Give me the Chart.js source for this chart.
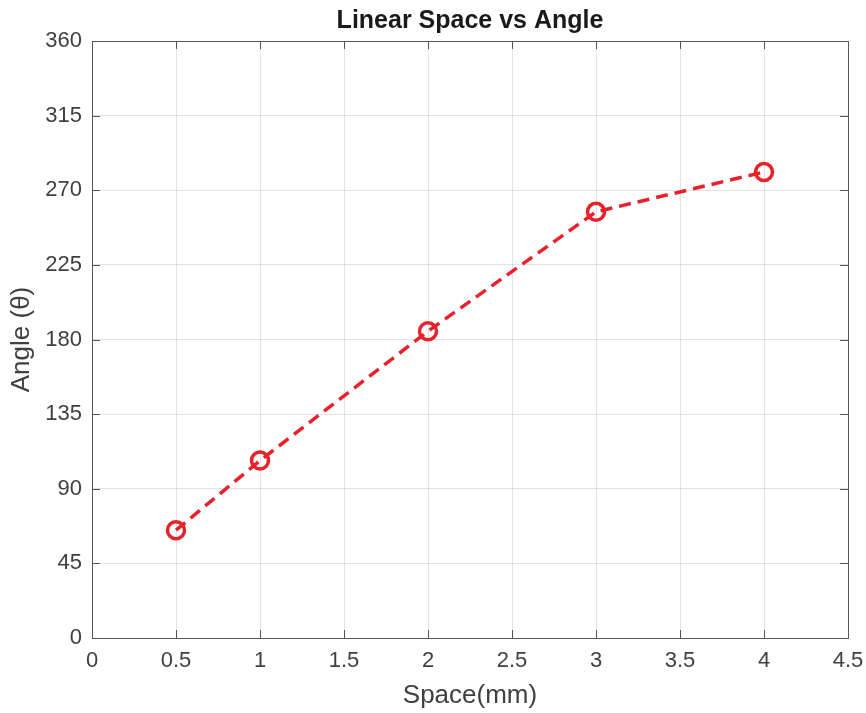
<!DOCTYPE html>
<html>
<head>
<meta charset="utf-8">
<script src="https://cdn.jsdelivr.net/npm/chart.js@4/dist/chart.umd.min.js"></script>
<style>
  html, body { margin: 0; padding: 0; background: #fff; }
  #wrap { width: 866px; height: 713px; }
</style>
</head>
<body>
<div id="wrap"><canvas id="grafico"></canvas></div>
<script>
// dados
const spaceMm = [0.5, 1, 2, 3, 4];
const angleDeg = [65, 107, 185, 257, 281];
const xTicks = [0, 0.5, 1, 1.5, 2, 2.5, 3, 3.5, 4, 4.5];
const yTicks = [0, 45, 90, 135, 180, 225, 270, 315, 360];

const INK = '#404040';
const GRID = 'rgba(38,38,38,0.13)';
const RED = '#e8212a';
const FONT = "'Liberation Sans', Arial, Helvetica, sans-serif";

// caixa completa + marcas internas (estilo MATLAB) + título centrado na área
const boxPlugin = {
  id: 'box',
  afterDraw(chart) {
    const { ctx, chartArea: a, scales } = chart;
    ctx.save();
    ctx.strokeStyle = '#555';
    ctx.lineWidth = 1;
    ctx.strokeRect(a.left + 0.5, a.top + 0.5, a.right - a.left, a.bottom - a.top);
    const len = 8;
    ctx.beginPath();
    scales.x.ticks.forEach(t => {
      const px = Math.round(scales.x.getPixelForValue(t.value)) + 0.5;
      ctx.moveTo(px, a.bottom); ctx.lineTo(px, a.bottom - len);
      ctx.moveTo(px, a.top); ctx.lineTo(px, a.top + len);
    });
    scales.y.ticks.forEach(t => {
      const py = Math.round(scales.y.getPixelForValue(t.value)) + 0.5;
      ctx.moveTo(a.left, py); ctx.lineTo(a.left + len, py);
      ctx.moveTo(a.right, py); ctx.lineTo(a.right - len, py);
    });
    ctx.stroke();
    // título
    ctx.fillStyle = '#1a1a1a';
    ctx.font = 'bold 25px ' + FONT;
    ctx.textAlign = 'center';
    ctx.textBaseline = 'middle';
    ctx.fillText('Linear Space vs Angle', (a.left + a.right) / 2, 21);
    ctx.restore();
  }
};

new Chart(document.getElementById('grafico'), {
  type: 'scatter',
  data: {
    datasets: [{
      label: 'Angle',
      data: spaceMm.map((x, i) => ({ x, y: angleDeg[i] })),
      showLine: true,
      borderColor: RED,
      borderWidth: 3.5,
      borderDash: [12, 7],
      backgroundColor: 'rgba(0,0,0,0)',
      pointBorderColor: RED,
      pointBackgroundColor: 'rgba(0,0,0,0)',
      pointBorderWidth: 3.5,
      pointRadius: 8.5,
      pointHoverRadius: 8.5
    }]
  },
  options: {
    responsive: true,
    maintainAspectRatio: false,
    animation: false,
    layout: { padding: { top: 41, right: 18, left: 0, bottom: 0 } },
    plugins: {
      legend: { display: false },
      tooltip: { enabled: false },
      title: { display: false }
    },
    scales: {
      x: {
        type: 'linear',
        min: 0, max: 4.5,
        afterBuildTicks: s => { s.ticks = xTicks.map(v => ({ value: v })); },
        afterFit: s => { s.height = 75; s.paddingLeft = 0; s.paddingRight = 0; },
        ticks: { color: INK, font: { family: FONT, size: 22 }, padding: 10, maxRotation: 0, callback: v => String(v) },
        grid: { color: GRID, drawTicks: false },
        border: { display: false },
        title: { display: true, text: 'Space(mm)', color: INK, font: { family: FONT, size: 26 }, padding: { top: 0, bottom: 2 } }
      },
      y: {
        type: 'linear',
        min: 0, max: 360,
        afterBuildTicks: s => { s.ticks = yTicks.map(v => ({ value: v })); },
        afterFit: s => { s.width = 92; s.paddingTop = 0; s.paddingBottom = 0; },
        ticks: { color: INK, font: { family: FONT, size: 22 }, padding: 10, callback: v => String(v) },
        grid: { color: GRID, drawTicks: false },
        border: { display: false },
        title: { display: true, text: 'Angle (θ)', color: INK, font: { family: FONT, size: 26 }, padding: { top: 6, bottom: 0 } }
      }
    }
  },
  plugins: [boxPlugin]
});
</script>
</body>
</html>
